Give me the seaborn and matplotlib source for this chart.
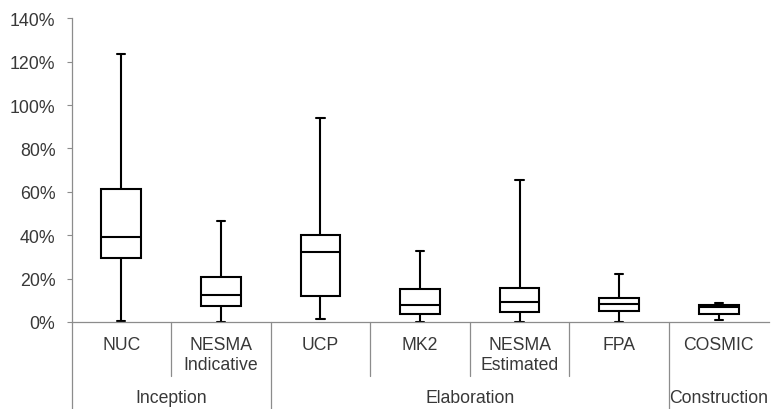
import numpy as np
import pandas as pd
import matplotlib
matplotlib.use("Agg")
import matplotlib.pyplot as plt
from matplotlib.ticker import PercentFormatter
import seaborn as sns

# Five-number summaries (min, Q1, median, Q3, max) of relative error, in %
methods = ["NUC", "NESMA\nIndicative", "UCP", "MK2", "NESMA\nEstimated", "FPA", "COSMIC"]
phases = ["Inception", "Elaboration", "Construction"]
phase_of_method = ["Inception", "Inception", "Elaboration", "Elaboration",
                   "Elaboration", "Elaboration", "Construction"]
mins = [0.3, 0.2, 1.2, 0.2, 0.2, 0.2, 0.8]
q1s = [29.4, 7.2, 12.2, 3.5, 4.6, 5.1, 3.8]
medians = [39.4, 12.5, 32.2, 7.7, 9.4, 8.5, 7.0]
q3s = [61.2, 20.9, 40.2, 15.1, 15.5, 11.2, 7.9]
maxs = [123.5, 46.5, 94.0, 32.5, 65.5, 22.0, 8.7]
yticks = [0, 20, 40, 60, 80, 100, 120, 140]

rows = []
for m, a, b, c, d, e in zip(methods, mins, q1s, medians, q3s, maxs):
    for v in (a, b, c, d, e):
        rows.append({"method": m, "error": v / 100.0})
df = pd.DataFrame(rows)

sns.set_style("white")
plt.rcParams["font.family"] = ["Liberation Sans", "DejaVu Sans"]

text_color = "#383838"
axis_color = "#8c8c8c"

fig = plt.figure(figsize=(7.72, 4.10), dpi=100)
ax = fig.add_axes([71.5 / 772, 87 / 410, 697 / 772, 303.7 / 410])

sns.boxplot(data=df, x="method", y="error", order=methods, ax=ax,
            color="white", linecolor="black", linewidth=1.5, width=0.4,
            whis=(0, 100), saturation=1, capwidths=0.083, showfliers=False)

ax.set_xlim(-0.5, len(methods) - 0.5)
ax.set_ylim(0, 1.4)
ax.set_yticks([t / 100 for t in yticks])
ax.yaxis.set_major_formatter(PercentFormatter(1.0, decimals=0))
ax.tick_params(axis="y", which="major", direction="out", length=3.6, width=0.8,
               color=axis_color, labelsize=12.8, labelcolor=text_color, pad=8, left=True)
ax.tick_params(axis="x", bottom=False, labelbottom=False)
ax.set_xlabel("")
ax.set_ylabel("")

for side in ("top", "right"):
    ax.spines[side].set_visible(False)
for side in ("left", "bottom"):
    ax.spines[side].set_color(axis_color)
    ax.spines[side].set_linewidth(0.9)

trans = ax.get_xaxis_transform()

# Method labels
for i, m in enumerate(methods):
    ax.text(i, -0.047, m, transform=trans, ha="center", va="top",
            fontsize=12.7, color=text_color, linespacing=1.2)

# Separators between methods and between phases
for i in range(len(methods)):
    x = i - 0.5
    if i == 0 or phase_of_method[i] != phase_of_method[i - 1]:
        ax.plot([x, x], [0, -0.29], transform=trans, color=axis_color,
                lw=0.9, clip_on=False)
    else:
        ax.plot([x, x], [0, -0.178], transform=trans, color=axis_color,
                lw=0.9, clip_on=False)

# Phase labels centred under their methods
for p in phases:
    idx = [i for i, ph in enumerate(phase_of_method) if ph == p]
    ax.text(np.mean(idx), -0.247, p, transform=trans, ha="center", va="center",
            fontsize=12.7, color=text_color)

fig.savefig("out.png", dpi=100)
